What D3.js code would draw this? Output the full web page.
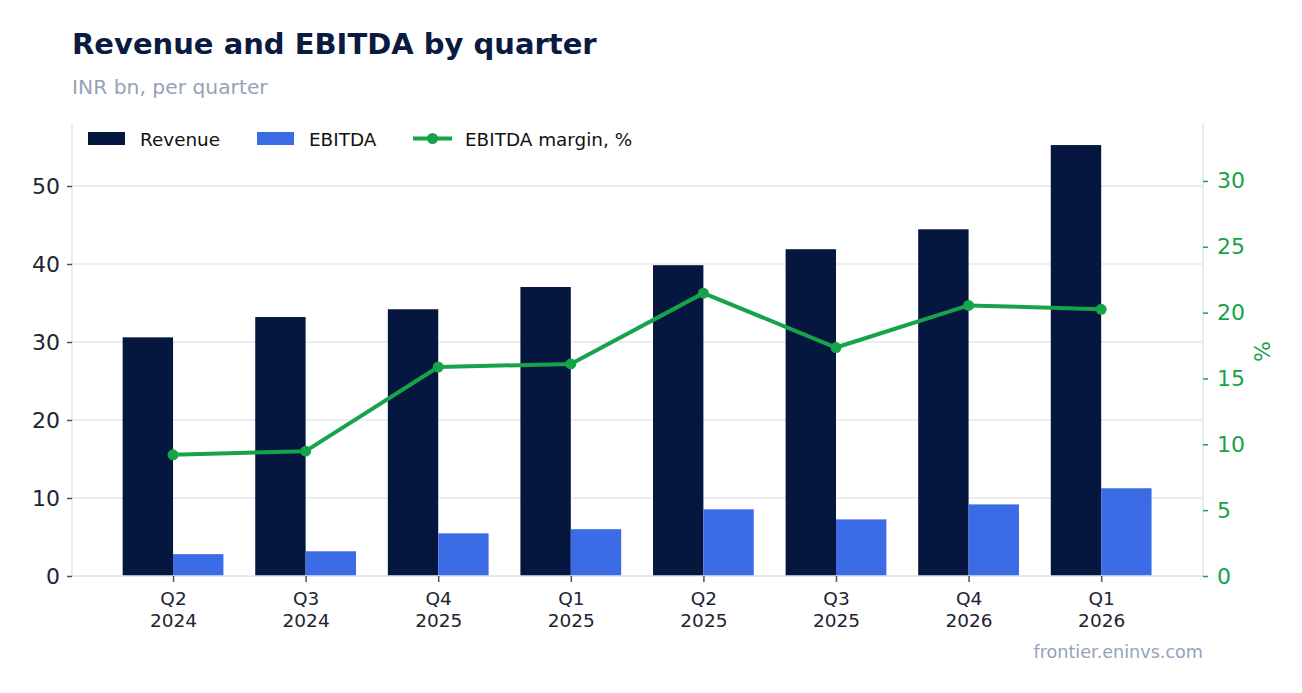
<!DOCTYPE html>
<html>
<head>
<meta charset="utf-8">
<script src="https://cdn.jsdelivr.net/npm/d3@7"></script>
<style>
  body { margin: 0; background: #fff; }
  svg { font-family: "DejaVu Sans", sans-serif; }
</style>
</head>
<body>
<div id="chart"></div>
<script>
const quarters = ["Q2", "Q3", "Q4", "Q1", "Q2", "Q3", "Q4", "Q1"];
const years = ["2024", "2024", "2025", "2025", "2025", "2025", "2026", "2026"];
const revenue = [30.6, 33.2, 34.2, 37.05, 39.85, 41.9, 44.45, 55.25];
const ebitda = [2.8, 3.17, 5.47, 6.0, 8.55, 7.26, 9.18, 11.25];
const margin = [9.2, 9.48, 15.87, 16.1, 21.48, 17.35, 20.55, 20.25];
const leftTicks = [0, 10, 20, 30, 40, 50];
const rightTicks = [0, 5, 10, 15, 20, 25, 30];

const width = 1302, height = 693;
const margin_ = { left: 72, right: 1203, top: 123, bottom: 576 };
const colors = { revenue: "#05163f", ebitda: "#3b6ce6", margin: "#16a34a" };

const svg = d3.select("#chart").append("svg")
  .attr("width", width)
  .attr("height", height);

// scales (x is index based, bars sit either side of the tick)
const x = d3.scaleLinear().domain([-0.762, 7.768]).range([margin_.left, margin_.right]);
const yL = d3.scaleLinear().domain([0, 58.08]).range([margin_.bottom, margin_.top]);
const yR = d3.scaleLinear().domain([0, 34.4]).range([margin_.bottom, margin_.top]);
const barW = 0.38;

// title
svg.append("text").attr("x", 72).attr("y", 54)
  .attr("font-size", 29).attr("font-weight", "bold").attr("fill", "#0a1a40")
  .text("Revenue and EBITDA by quarter");
svg.append("text").attr("x", 72).attr("y", 94)
  .attr("font-size", 20.3).attr("fill", "#94a3b8")
  .text("INR bn, per quarter");

// grid
svg.append("g").selectAll("line").data(leftTicks).join("line")
  .attr("x1", margin_.left).attr("x2", margin_.right)
  .attr("y1", d => yL(d)).attr("y2", d => yL(d))
  .attr("stroke", "#e5e7eb").attr("stroke-width", 1.6);

// bars
svg.append("g").selectAll("rect").data(revenue).join("rect")
  .attr("x", (d, i) => x(i - barW))
  .attr("width", x(barW) - x(0))
  .attr("y", d => yL(d))
  .attr("height", d => yL(0) - yL(d))
  .attr("fill", colors.revenue);

svg.append("g").selectAll("rect").data(ebitda).join("rect")
  .attr("x", (d, i) => x(i))
  .attr("width", x(barW) - x(0))
  .attr("y", d => yL(d))
  .attr("height", d => yL(0) - yL(d))
  .attr("fill", colors.ebitda);

// axes
const axisLeft = svg.append("g")
  .attr("transform", `translate(${margin_.left},0)`)
  .call(d3.axisLeft(yL).tickValues(leftTicks).tickSize(5).tickPadding(7));
axisLeft.select(".domain").attr("stroke", "#e2e8f0").attr("stroke-width", 1.6)
  .attr("d", `M0,${margin_.top}V${margin_.bottom}`);
axisLeft.selectAll(".tick line").attr("stroke", "#475569").attr("stroke-width", 1.5);
axisLeft.selectAll(".tick text").attr("font-size", 22).attr("fill", "#1e2433")
  .attr("font-family", "DejaVu Sans");

const axisRight = svg.append("g")
  .attr("transform", `translate(${margin_.right},0)`)
  .call(d3.axisRight(yR).tickValues(rightTicks).tickSize(5).tickPadding(9));
axisRight.select(".domain").attr("stroke", "#e2e8f0").attr("stroke-width", 1.6)
  .attr("d", `M0,${margin_.top}V${margin_.bottom}`);
axisRight.selectAll(".tick line").attr("stroke", colors.margin).attr("stroke-width", 1.5);
axisRight.selectAll(".tick text").attr("font-size", 22).attr("fill", colors.margin)
  .attr("font-family", "DejaVu Sans");

svg.append("text")
  .attr("transform", `translate(1270,${(margin_.top + margin_.bottom) / 2 + 2}) rotate(-90)`)
  .attr("text-anchor", "middle")
  .attr("font-size", 22).attr("fill", colors.margin)
  .text("%");

const axisBottom = svg.append("g")
  .attr("transform", `translate(0,${margin_.bottom})`)
  .call(d3.axisBottom(x).tickValues(d3.range(quarters.length)).tickSize(6).tickFormat(""));
axisBottom.select(".domain").attr("stroke", "#e2e8f0").attr("stroke-width", 1.6)
  .attr("d", `M${margin_.left},0H${margin_.right}`);
axisBottom.selectAll(".tick line").attr("stroke", "#475569").attr("stroke-width", 1.5);
axisBottom.selectAll(".tick").each(function (d) {
  const t = d3.select(this).append("text")
    .attr("fill", "#1e2433").attr("font-size", 18.5).attr("text-anchor", "middle")
    .attr("font-family", "DejaVu Sans");
  t.append("tspan").attr("x", 0).attr("y", 29).text(quarters[d]);
  t.append("tspan").attr("x", 0).attr("y", 51).text(years[d]);
});

// margin line
const line = d3.line().x((d, i) => x(i)).y(d => yR(d));
svg.append("path").datum(margin)
  .attr("d", line)
  .attr("fill", "none").attr("stroke", colors.margin).attr("stroke-width", 4)
  .attr("stroke-linejoin", "round");
svg.append("g").selectAll("circle").data(margin).join("circle")
  .attr("cx", (d, i) => x(i)).attr("cy", d => yR(d)).attr("r", 5.5)
  .attr("fill", colors.margin);

// legend
const legend = svg.append("g").attr("font-size", 18.4).attr("fill", "#111");
legend.append("rect").attr("x", 88).attr("y", 132).attr("width", 37).attr("height", 13).attr("fill", colors.revenue);
legend.append("text").attr("x", 140).attr("y", 145.5).text("Revenue");
legend.append("rect").attr("x", 257).attr("y", 132).attr("width", 37).attr("height", 13).attr("fill", colors.ebitda);
legend.append("text").attr("x", 309).attr("y", 145.5).text("EBITDA");
legend.append("line").attr("x1", 413).attr("x2", 452).attr("y1", 138.5).attr("y2", 138.5)
  .attr("stroke", colors.margin).attr("stroke-width", 4);
legend.append("circle").attr("cx", 432.5).attr("cy", 138.5).attr("r", 5.5).attr("fill", colors.margin);
legend.append("text").attr("x", 465).attr("y", 145.5).text("EBITDA margin, %");

// watermark
svg.append("text").attr("x", 1203).attr("y", 658).attr("text-anchor", "end")
  .attr("font-size", 17.6).attr("fill", "#94a3b8")
  .text("frontier.eninvs.com");
</script>
</body>
</html>
